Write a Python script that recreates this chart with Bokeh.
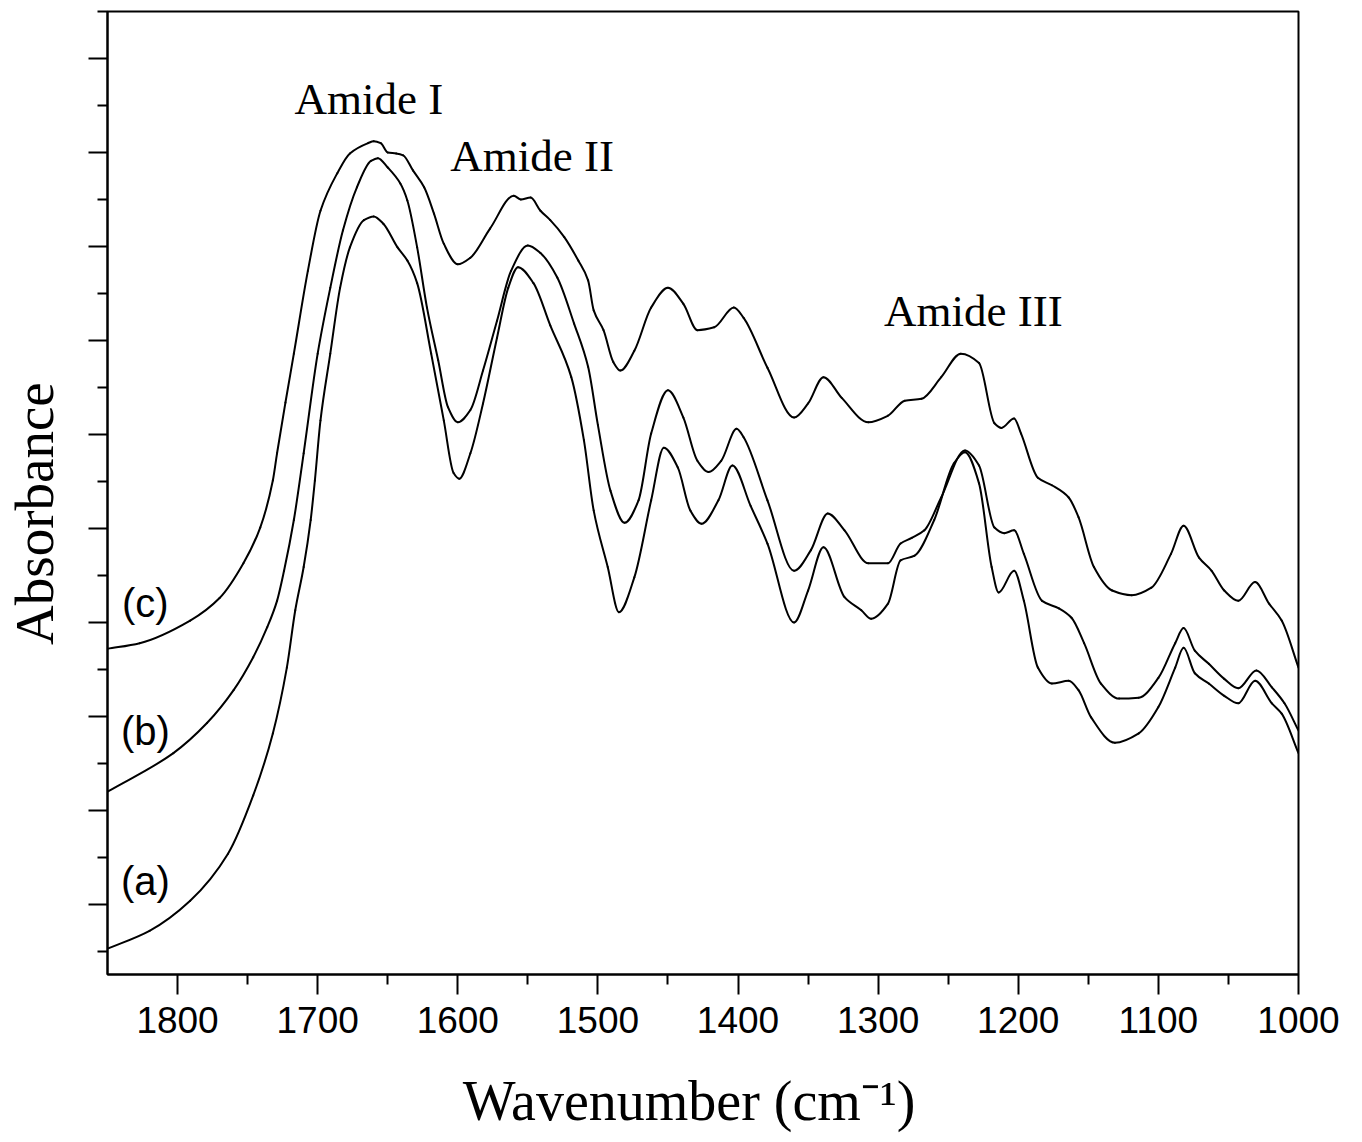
from bokeh.plotting import figure
from bokeh.models import Range1d, FixedTicker, Label
from bokeh.embed import file_html
from bokeh.resources import INLINE

# ---- data ----
wn_c = [1850, 1827, 1791, 1770, 1753, 1741, 1732, 1729, 1723, 1717, 1707, 1698, 1686, 1677, 1664, 1660,
        1655, 1650, 1644, 1639, 1632, 1624, 1617, 1610, 1600, 1591, 1577, 1560, 1555, 1548, 1541, 1534,
        1524, 1514, 1507, 1503, 1496, 1489, 1484, 1474, 1462, 1450, 1439, 1429, 1417, 1403, 1396, 1379,
        1360, 1350, 1339, 1326, 1307, 1293, 1281, 1269, 1255, 1241, 1228, 1217, 1212, 1203, 1198, 1186,
        1176, 1164, 1157, 1146, 1133, 1119, 1105, 1091, 1082, 1071, 1062, 1053, 1043, 1031, 1021, 1012, 1000]
abs_c = [2.72, 2.78, 3.02, 3.26, 3.63, 4.01, 4.51, 4.80, 5.34, 5.86, 6.74, 7.38, 7.78, 7.99, 8.10, 8.12,
         8.10, 8.00, 7.99, 7.97, 7.81, 7.63, 7.35, 7.03, 6.81, 6.88, 7.19, 7.54, 7.50, 7.52, 7.38, 7.28,
         7.10, 6.85, 6.64, 6.32, 6.11, 5.77, 5.68, 5.89, 6.35, 6.56, 6.39, 6.11, 6.14, 6.35, 6.24, 5.71,
         5.18, 5.33, 5.61, 5.39, 5.13, 5.20, 5.36, 5.38, 5.61, 5.86, 5.76, 5.12, 5.07, 5.17, 5.01, 4.54,
         4.46, 4.33, 4.12, 3.59, 3.34, 3.29, 3.37, 3.73, 4.03, 3.69, 3.55, 3.34, 3.23, 3.43, 3.20, 3.02, 2.52]

wn_b = [1850, 1803, 1779, 1760, 1746, 1736, 1729, 1724, 1717, 1710, 1700, 1691, 1682, 1672, 1662, 1657,
        1650, 1641, 1636, 1629, 1622, 1614, 1607, 1600, 1591, 1582, 1572, 1562, 1550, 1541, 1529, 1517,
        1507, 1500, 1491, 1481, 1471, 1462, 1450, 1439, 1429, 1421, 1412, 1401, 1396, 1379, 1360, 1348,
        1336, 1324, 1307, 1293, 1284, 1276, 1267, 1255, 1238, 1228, 1217, 1210, 1203, 1196, 1183, 1171,
        1162, 1153, 1141, 1128, 1114, 1100, 1088, 1082, 1074, 1064, 1053, 1043, 1030, 1019, 1010, 1000]
abs_b = [1.20, 1.61, 1.93, 2.28, 2.63, 2.95, 3.23, 3.55, 4.09, 4.80, 5.86, 6.56, 7.17, 7.63, 7.91, 7.94,
         7.84, 7.67, 7.49, 6.99, 6.35, 5.79, 5.29, 5.13, 5.26, 5.68, 6.21, 6.74, 7.01, 6.93, 6.67, 6.18,
         5.72, 5.10, 4.40, 4.06, 4.30, 5.01, 5.47, 5.18, 4.72, 4.60, 4.72, 5.06, 4.97, 4.30, 3.55, 3.77,
         4.16, 3.98, 3.63, 3.63, 3.84, 3.90, 3.98, 4.33, 4.83, 4.67, 4.01, 3.95, 3.98, 3.73, 3.23, 3.15,
         3.05, 2.78, 2.35, 2.19, 2.20, 2.41, 2.78, 2.94, 2.70, 2.56, 2.40, 2.30, 2.49, 2.31, 2.14, 1.85]

wn_a = [1850, 1820, 1791, 1764, 1746, 1732, 1722, 1716, 1710, 1705, 1702, 1698, 1691, 1684, 1677, 1667,
        1660, 1653, 1643, 1636, 1629, 1619, 1610, 1603, 1599, 1591, 1582, 1572, 1564, 1557, 1546, 1534,
        1519, 1510, 1503, 1493, 1485, 1474, 1462, 1453, 1443, 1434, 1426, 1414, 1404, 1391, 1379, 1360,
        1350, 1339, 1324, 1312, 1305, 1293, 1284, 1274, 1260, 1246, 1238, 1228, 1219, 1214, 1203, 1196,
        1186, 1176, 1164, 1157, 1148, 1131, 1114, 1100, 1088, 1082, 1074, 1064, 1053, 1043, 1031, 1019,
        1012, 1000]
abs_a = [-0.47, -0.28, 0.04, 0.54, 1.16, 1.82, 2.52, 3.13, 3.59, 4.09, 4.51, 5.15, 5.86, 6.56, 6.99, 7.28,
         7.32, 7.24, 6.99, 6.85, 6.61, 5.86, 5.15, 4.59, 4.53, 4.80, 5.33, 6.03, 6.56, 6.78, 6.61, 6.16,
         5.61, 4.94, 4.19, 3.59, 3.11, 3.48, 4.30, 4.86, 4.65, 4.19, 4.05, 4.30, 4.67, 4.24, 3.84, 3.00,
         3.34, 3.80, 3.27, 3.13, 3.04, 3.20, 3.66, 3.71, 4.09, 4.69, 4.81, 4.48, 3.59, 3.32, 3.55, 3.23,
         2.52, 2.35, 2.38, 2.28, 1.99, 1.72, 1.82, 2.10, 2.52, 2.73, 2.46, 2.35, 2.22, 2.14, 2.38, 2.14,
         2.03, 1.61]

x_major = [1000, 1100, 1200, 1300, 1400, 1500, 1600, 1700, 1800]
x_minor = [1050, 1150, 1250, 1350, 1450, 1550, 1650, 1750]
y_major = [0, 1, 2, 3, 4, 5, 6, 7, 8, 9]
y_minor = [-0.5, 0.5, 1.5, 2.5, 3.5, 4.5, 5.5, 6.5, 7.5, 8.5, 9.5]

band_names = ["Amide I", "Amide II", "Amide III"]
curve_names = ["(a)", "(b)", "(c)"]
x_title = "Wavenumber (cm\u207b\u00b9)"
y_title = "Absorbance"
NBSP = "\u00a0"  # trailing no-break spaces nudge the centred axis titles off-centre like the reference


def smooth_segments(xs, ys):
    """Monotone cubic (PCHIP) rendering of the polyline as Bezier segments."""
    n = len(xs)
    h = [xs[i + 1] - xs[i] for i in range(n - 1)]
    d = [(ys[i + 1] - ys[i]) / h[i] for i in range(n - 1)]
    m = [0.0] * n
    m[0], m[-1] = d[0], d[-1]
    for k in range(1, n - 1):
        if d[k - 1] * d[k] <= 0:
            m[k] = 0.0
        else:
            a0, a1 = abs(h[k - 1]), abs(h[k])
            w1, w2 = 2 * a1 + a0, a1 + 2 * a0
            m[k] = (w1 + w2) / (w1 / d[k - 1] + w2 / d[k])
    seg = dict(x0=[], y0=[], x1=[], y1=[], cx0=[], cy0=[], cx1=[], cy1=[])
    for i in range(n - 1):
        seg["x0"].append(xs[i]); seg["y0"].append(ys[i])
        seg["x1"].append(xs[i + 1]); seg["y1"].append(ys[i + 1])
        seg["cx0"].append(xs[i] + h[i] / 3); seg["cy0"].append(ys[i] + m[i] * h[i] / 3)
        seg["cx1"].append(xs[i + 1] - h[i] / 3); seg["cy1"].append(ys[i + 1] - m[i + 1] * h[i] / 3)
    return seg


# ---- figure ----
p = figure(width=1362, height=1142,
           x_range=Range1d(1850, 1000), y_range=Range1d(-0.745, 9.5),
           output_backend="svg", toolbar_location=None,
           min_border_left=107, min_border_right=64, min_border_top=11, min_border_bottom=168)
p.grid.visible = False
p.background_fill_color = "white"
p.border_fill_color = "white"
p.outline_line_color = "black"
p.outline_line_width = 2

for wn, ab in [(wn_a, abs_a), (wn_b, abs_b), (wn_c, abs_c)]:
    p.bezier(line_color="black", line_width=2, line_cap="round", **smooth_segments(wn, ab))

xa = p.xaxis[0]
xa.ticker = FixedTicker(ticks=x_major, minor_ticks=x_minor)
xa.axis_line_width = 2
xa.major_tick_line_width = 2
xa.minor_tick_line_width = 2
xa.major_tick_out = 20
xa.major_tick_in = 0
xa.minor_tick_out = 10
xa.minor_tick_in = 0
xa.major_label_text_font = "Liberation Sans"
xa.major_label_text_font_size = "37px"
xa.major_label_text_color = "black"
xa.major_label_standoff = 12
xa.axis_label = x_title + NBSP * 2
xa.axis_label_text_font = "Liberation Serif"
xa.axis_label_text_font_size = "56px"
xa.axis_label_text_font_style = "normal"
xa.axis_label_text_color = "black"
xa.axis_label_standoff = 34

ya = p.yaxis[0]
ya.ticker = FixedTicker(ticks=y_major, minor_ticks=y_minor)
ya.axis_line_width = 2
ya.major_tick_line_width = 2
ya.minor_tick_line_width = 2
ya.major_tick_out = 19
ya.major_tick_in = 0
ya.minor_tick_out = 10
ya.minor_tick_in = 0
ya.major_label_overrides = {v: "" for v in y_major}
ya.major_label_standoff = 0
ya.axis_label = y_title + NBSP * 3
ya.axis_label_text_font = "Liberation Serif"
ya.axis_label_text_font_size = "55px"
ya.axis_label_text_font_style = "normal"
ya.axis_label_text_color = "black"
ya.axis_label_standoff = 24

for txt, x, y in zip(band_names, [1663.5, 1547, 1232], [8.57, 7.96, 6.31]):
    p.add_layout(Label(x=x, y=y, text=txt, text_align="center", text_baseline="alphabetic",
                       text_font="Liberation Serif", text_font_size="45px", text_color="black"))

for txt, y in zip(curve_names, [0.245, 1.85, 3.21]):
    p.add_layout(Label(x=1823, y=y, text=txt, text_align="center", text_baseline="middle",
                       text_font="Liberation Sans", text_font_size="40px", text_color="black"))

open("out.html", "w").write(file_html(p, INLINE))
